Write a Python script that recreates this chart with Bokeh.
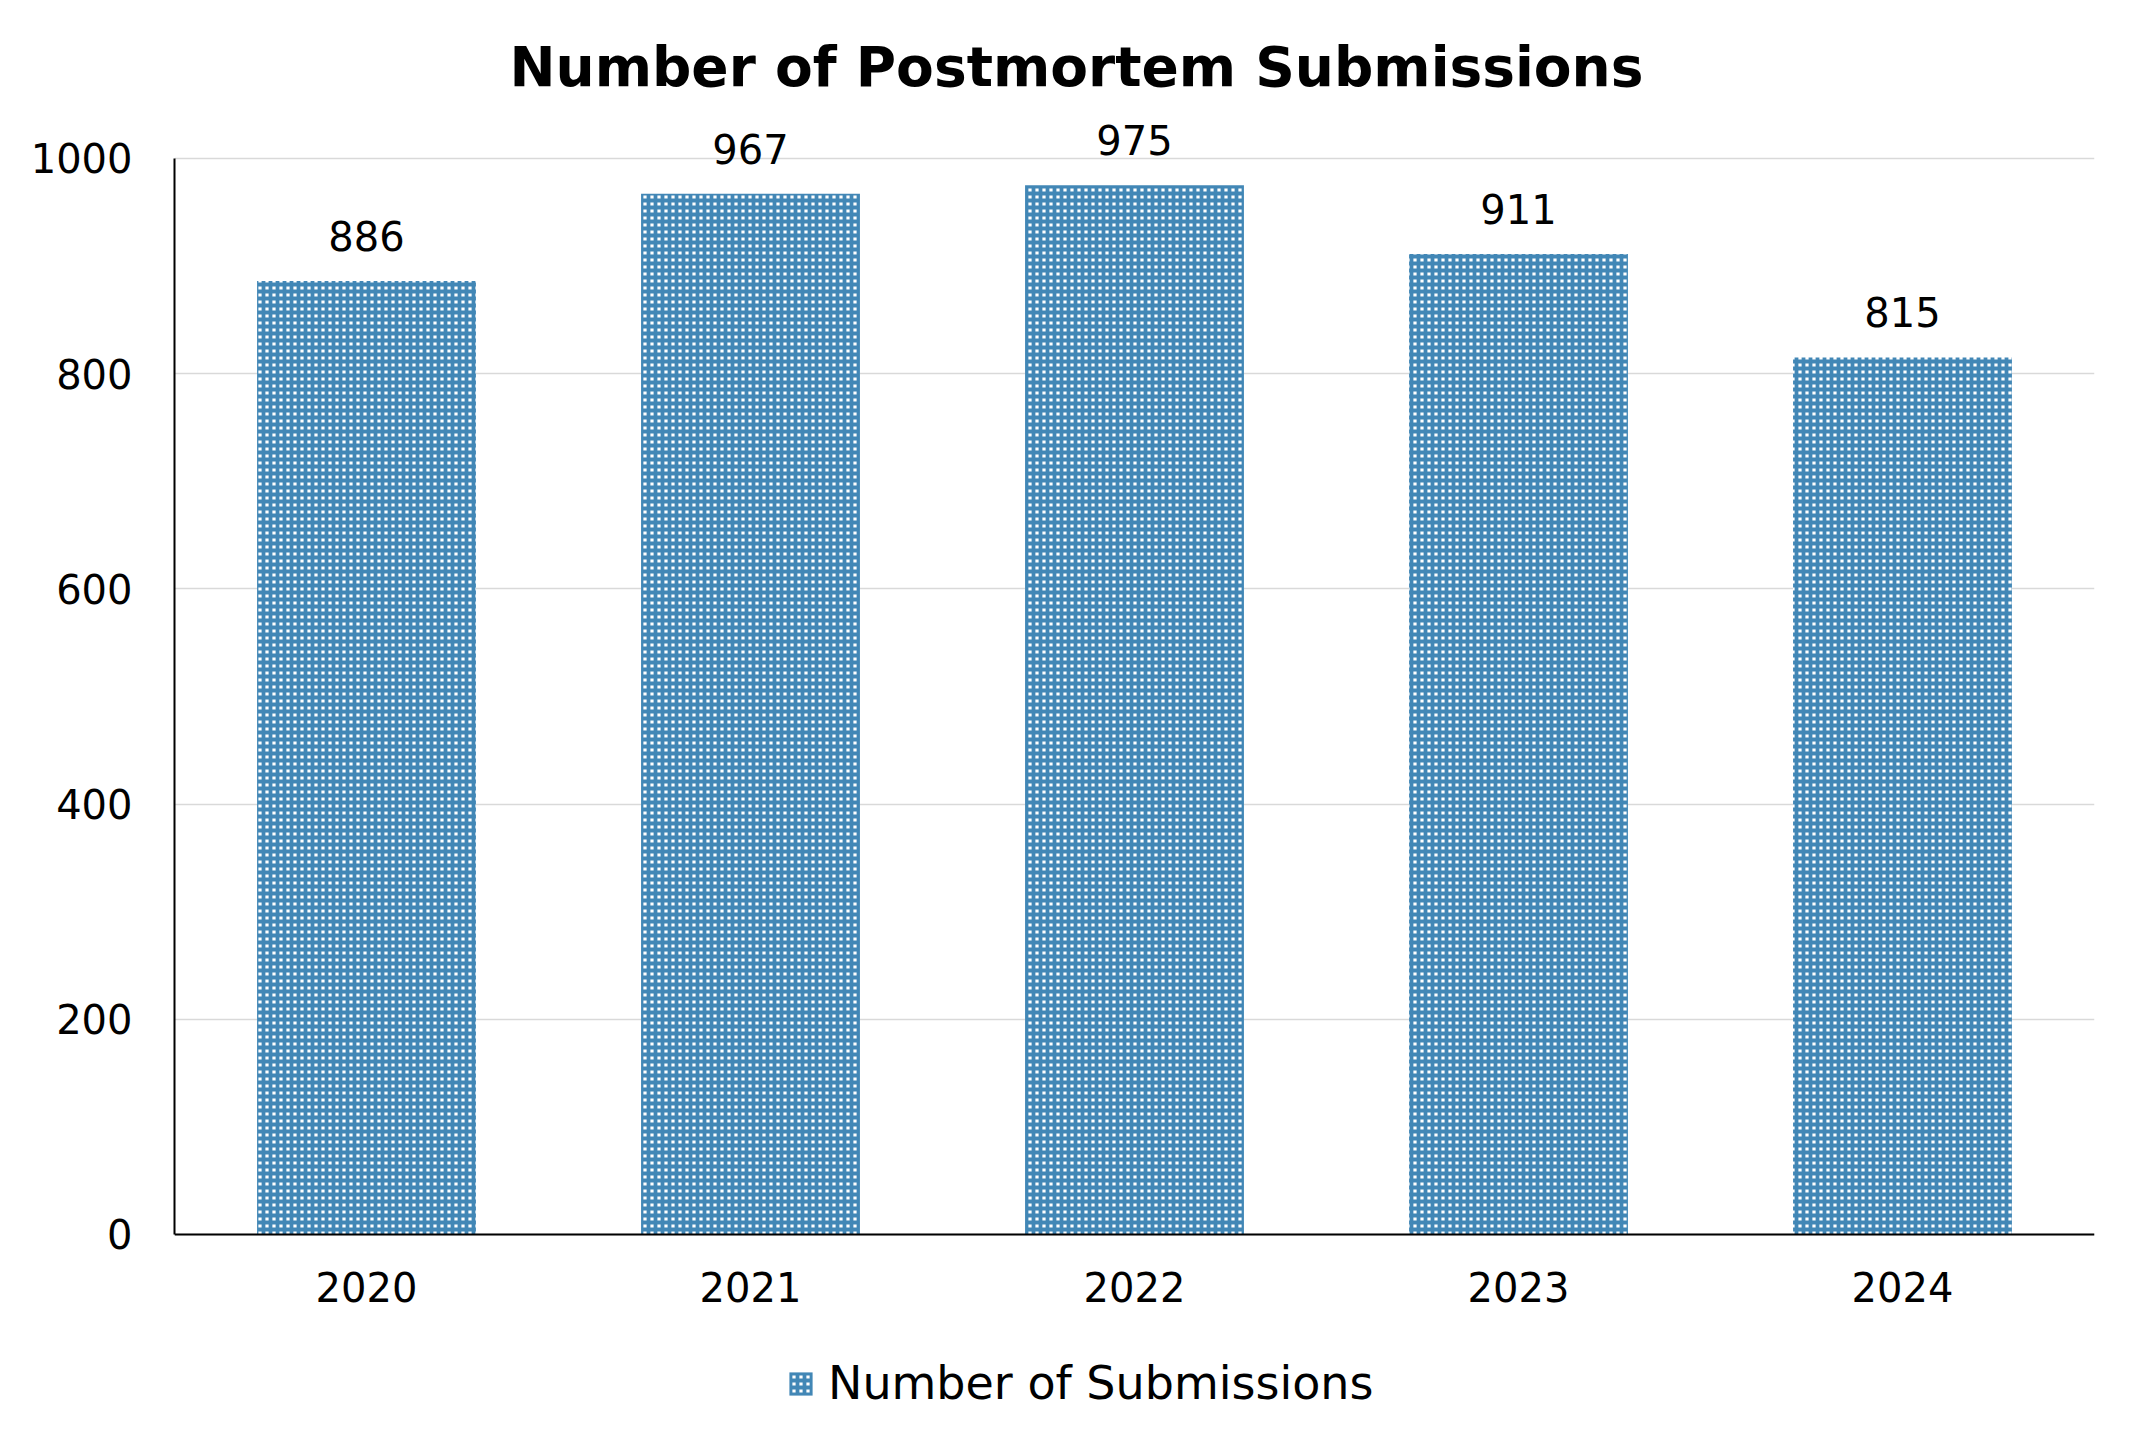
from bokeh.plotting import figure
from bokeh.models import ColumnDataSource, FactorRange, Range1d, FixedTicker, Legend, LegendItem, LabelSet
from bokeh.core.properties import value
from bokeh.embed import file_html
from bokeh.resources import INLINE

years = ["2020", "2021", "2022", "2023", "2024"]
submissions = [886, 967, 975, 911, 815]
y_ticks = [0, 200, 400, 600, 800, 1000]
series_name = "Number of Submissions"
title_text = "Number of Postmortem Submissions"

BLUE = "#4287B6"
FONT = "DejaVu Sans"

src = ColumnDataSource(dict(year=years, value=submissions, label=[str(v) for v in submissions]))

# frame extends below zero so that the fixed x axis labels and the legend are not clipped
p = figure(
    width=2129, height=1436,
    x_range=FactorRange(*years, range_padding=0),
    y_range=Range1d(-187.7, 1050),
    output_backend="svg", toolbar_location=None,
    min_border_left=174, min_border_right=35, min_border_top=104, min_border_bottom=0,
)
p.outline_line_color = None
p.background_fill_color = "white"
p.border_fill_color = "white"

p.title.text = title_text
p.title.text_font = FONT
p.title.text_font_style = "bold"
p.title.text_font_size = "55px"
p.title.text_color = "black"
p.title.align = "left"
p.title.offset = 335
p.title.standoff = 11

r = p.vbar(x="year", top="value", width=0.57, source=src,
           fill_color="white", line_color=None,
           hatch_pattern="+", hatch_color=BLUE, hatch_scale=7, hatch_weight=3.8)

labels = LabelSet(x="year", y="value", text="label", source=src,
                  text_align="center", text_baseline="alphabetic", y_offset=30,
                  text_font=value(FONT), text_font_size=value("40px"), text_color="black")
p.add_layout(labels)

# axes
p.yaxis.ticker = FixedTicker(ticks=y_ticks)
p.yaxis.bounds = (0, 1000)
p.xaxis.fixed_location = 0
for ax in (p.xaxis[0], p.yaxis[0]):
    ax.axis_line_color = "black"
    ax.axis_line_width = 2
    ax.major_tick_line_color = None
    ax.minor_tick_line_color = None
    ax.major_tick_in = 0
    ax.major_tick_out = 0
    ax.major_label_text_font = FONT
    ax.major_label_text_font_size = "40px"
    ax.major_label_text_color = "black"
p.yaxis.major_label_standoff = 42
p.xaxis.major_label_standoff = 38

p.xgrid.grid_line_color = None
p.ygrid.grid_line_color = "#D9D9D9"
p.ygrid.grid_line_width = 1.5
p.ygrid.bounds = (0, 1000)

legend = Legend(items=[LegendItem(label=series_name, renderers=[r])],
                location=(612, 26), orientation="horizontal",
                label_text_font=FONT, label_text_font_size="46px", label_text_color="black",
                glyph_width=29, glyph_height=29, label_standoff=13,
                padding=0, margin=0, border_line_color=None,
                background_fill_alpha=0)
p.add_layout(legend, "center")

open("out.html", "w").write(file_html(p, INLINE))
